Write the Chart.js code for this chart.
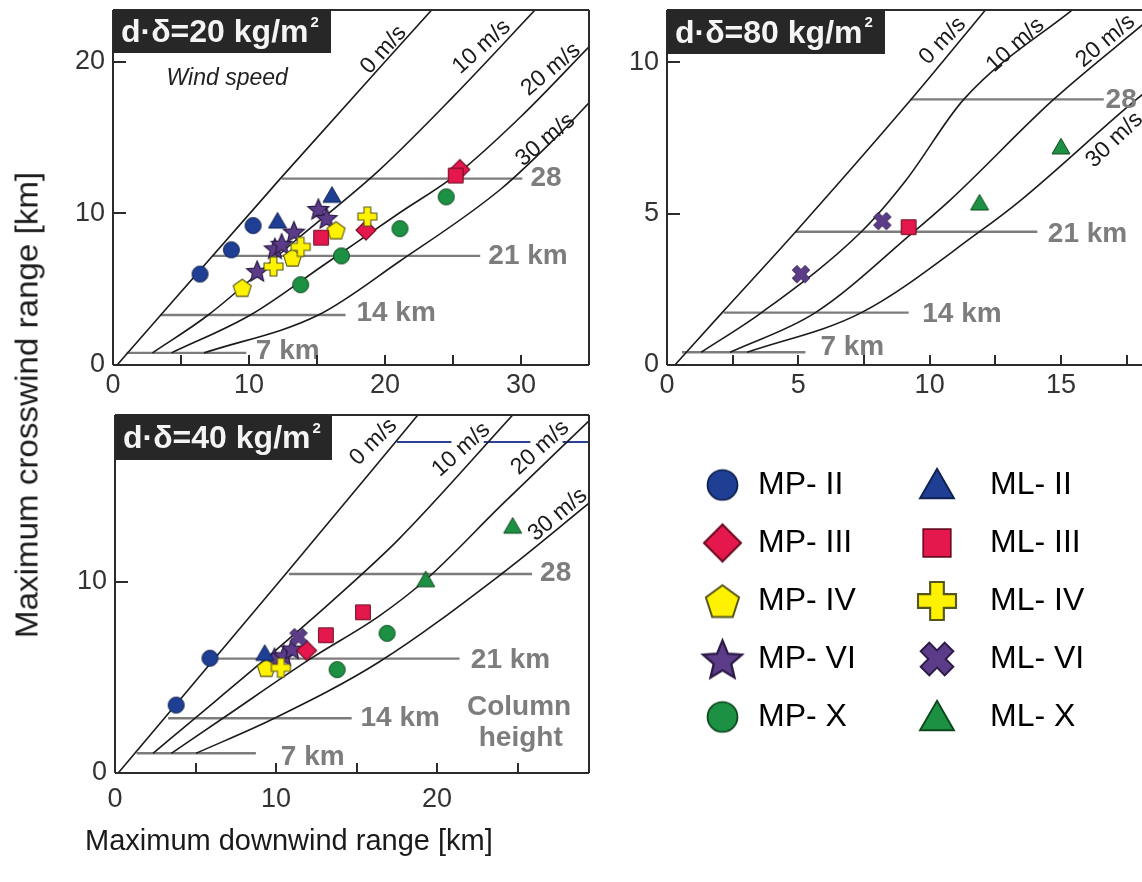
<!DOCTYPE html>
<html>
<head>
<meta charset="utf-8">
<script src="https://cdn.jsdelivr.net/npm/chart.js@4.4.1/dist/chart.umd.min.js"></script>
<style>
html,body{margin:0;padding:0;background:#ffffff;}
body{width:1142px;height:882px;overflow:hidden;position:relative;}
canvas{position:absolute;}
.t{position:absolute;white-space:nowrap;color:#1a1a1a;font-family:"Liberation Sans",Arial,Helvetica,sans-serif;line-height:1;}
</style>
</head>
<body>
<canvas id="p1" width="600" height="412" style="left:0px;top:0px"></canvas>
<canvas id="p2" width="560" height="412" style="left:600px;top:0px"></canvas>
<canvas id="p3" width="600" height="420" style="left:0px;top:410px"></canvas>
<canvas id="lg1" width="500" height="340" style="left:677px;top:443px"></canvas>
<canvas id="lg2" width="500" height="340" style="left:874px;top:443px"></canvas>
<div class="t" style="left:27px;top:405px;font-size:31px;transform:translate(-50%,-50%) rotate(-90deg) scaleX(1.07);">Maximum crosswind range [km]</div>
<div class="t" style="left:85px;top:826px;font-size:29px;">Maximum downwind range [km]</div>
<script>
const FONT = '"Liberation Sans", Arial, Helvetica, sans-serif';

// ---------------- Panel 1 : d·δ = 20 kg/m² ----------------
const p1_wind0  = [[0.3,0],[12.4,12.4],[23.6,23.6]];
const p1_wind10 = [[2.9,0.8],[7.0,3.3],[13.4,8.2],[19.5,12.8],[25.0,17.7],[31.0,23.4]];
const p1_wind20 = [[4.3,0.8],[10.1,3.3],[15.5,6.6],[21.0,10.0],[25.3,12.6],[30.0,16.4],[35.0,21.0]];
const p1_wind30 = [[6.7,0.8],[15.1,3.3],[21.0,6.8],[28.5,11.6],[33.1,15.5],[35.0,17.3]];
const p1_h7  = [[1.0,0.8],[9.8,0.8]];
const p1_h14 = [[3.5,3.3],[17.1,3.3]];
const p1_h21 = [[7.3,7.2],[27.0,7.2]];
const p1_h28 = [[12.4,12.3],[30.1,12.3]];
const p1_MP_II  = [[6.4,6.0],[8.7,7.6],[10.3,9.2]];
const p1_MP_III = [[18.6,8.9],[25.5,12.9]];
const p1_MP_IV  = [[9.5,5.1],[13.2,7.1],[16.4,8.9]];
const p1_MP_VI  = [[10.6,6.2],[11.9,7.7],[12.4,8.0],[13.3,8.8],[15.1,10.3],[15.7,9.7]];
const p1_MP_X   = [[13.8,5.3],[16.8,7.2],[21.1,9.0],[24.5,11.1]];
const p1_ML_II  = [[12.1,9.5],[16.1,11.2]];
const p1_ML_III = [[15.3,8.4],[25.2,12.5]];
const p1_ML_IV  = [[11.8,6.5],[13.8,7.8],[18.7,9.8]];
const p1_ML_VI  = [];
const p1_ML_X   = [];
const p1_xTickMarks = [5,10,15,20,25,30];
const p1_xTickLabels = [0,10,20,30];
const p1_yTickMarks = [10,20];
const p1_yTickLabels = [0,10,20];

// ---------------- Panel 2 : d·δ = 80 kg/m² ----------------
const p2_wind0  = [[0.3,0],[2.1,1.73],[4.9,4.4],[9.3,8.77],[12.2,11.8]];
const p2_wind10 = [[1.3,0.42],[3.6,1.73],[7.4,4.4],[9.1,6.1],[11.3,8.77],[15.4,11.7],[16.0,12.1]];
const p2_wind20 = [[2.4,0.42],[5.65,1.73],[9.4,4.4],[10.8,5.46],[14.7,8.75],[18.2,11.3]];
const p2_wind30 = [[3.05,0.42],[7.4,1.73],[11.9,4.4],[13.5,5.46],[17.4,8.42],[18.2,9.0]];
const p2_h7  = [[0.57,0.42],[5.27,0.42]];
const p2_h14 = [[2.16,1.73],[9.2,1.73]];
const p2_h21 = [[4.89,4.4],[14.1,4.4]];
const p2_h28 = [[9.27,8.77],[16.63,8.77]];
const p2_ML_III = [[9.2,4.55]];
const p2_ML_VI  = [[5.1,3.0],[8.2,4.75]];
const p2_ML_X   = [[11.9,5.35],[15.0,7.2]];
const p2_xTickMarks = [2.5,5,7.5,10,12.5,15,17.5];
const p2_xTickLabels = [0,5,10,15];
const p2_yTickMarks = [5,10];
const p2_yTickLabels = [0,5,10];

// ---------------- Panel 3 : d·δ = 40 kg/m² ----------------
const p3_wind0  = [[0.2,0],[10.6,10.4],[18.9,18.8]];
const p3_wind10 = [[2.36,1.03],[4.96,2.86],[9.4,6.0],[13.5,9.0],[17.6,12.2],[24.8,18.8]];
const p3_wind20 = [[3.5,1.03],[6.7,2.86],[12.2,6.0],[16.4,8.2],[19.3,10.1],[24.0,14.0],[29.44,18.4]];
const p3_wind30 = [[5.04,1.03],[9.9,2.86],[16.4,5.8],[24.0,10.4],[29.44,14.1]];
const p3_h7  = [[1.34,1.03],[8.75,1.03]];
const p3_h14 = [[3.3,2.86],[14.7,2.86]];
const p3_h21 = [[6.4,5.98],[21.4,5.98]];
const p3_h28 = [[10.8,10.4],[25.9,10.4]];
const p3_h35 = [[17.5,17.3],[20.9,17.3],[20.9,null],[22.9,17.3],[25.8,17.3],[25.8,null],[27.8,17.3],[29.44,17.3]];
const p3_MP_II  = [[3.8,3.55],[5.9,6.0]];
const p3_MP_III = [[11.9,6.4]];
const p3_MP_IV  = [[9.4,5.5]];
const p3_MP_VI  = [[9.9,6.0],[10.5,6.15],[11.0,6.5]];
const p3_MP_X   = [[13.8,5.4],[16.9,7.3]];
const p3_ML_II  = [[9.3,6.25]];
const p3_ML_III = [[13.1,7.2],[15.4,8.4]];
const p3_ML_IV  = [[10.3,5.5]];
const p3_ML_VI  = [[11.4,7.1]];
const p3_ML_X   = [[19.3,10.1],[24.7,12.9]];
const p3_xTickMarks = [5,10,15,20,25];
const p3_xTickLabels = [0,10,20];
const p3_yTickMarks = [10];
const p3_yTickLabels = [0,10];

// ---------------- Series / legend ----------------
const legendCol1 = ['MP- II','MP- III','MP- IV','MP- VI','MP- X'];
const legendCol2 = ['ML- II','ML- III','ML- IV','ML- VI','ML- X'];
const windLabels = ['0 m/s','10 m/s','20 m/s','30 m/s'];

// styles
const seriesStyle = {
  'MP- II':  ['circle',  '#1f3f95', '#0f214f'],
  'MP- III': ['diamond', '#e4184c', '#6a0b22'],
  'MP- IV':  ['pentagon','#fff200', '#55551e'],
  'MP- VI':  ['star',    '#5c3c88', '#2a1a45'],
  'MP- X':   ['circle',  '#1d9143', '#0c461d'],
  'ML- II':  ['triangle','#1f3f95', '#0f214f'],
  'ML- III': ['square',  '#e4184c', '#6a0b22'],
  'ML- IV':  ['plus',    '#fff200', '#55551e'],
  'ML- VI':  ['cross',   '#5c3c88', '#2a1a45'],
  'ML- X':   ['triangle','#1d9143', '#0c461d']
};
const plotSize   = {circle:17, diamond:20, pentagon:19, star:22, triangle:18, square:16, plus:19, cross:18};
const legendSize = {circle:31, diamond:37, pentagon:35, star:41, triangle:34, square:30, plus:38, cross:34};

function makeMarker(shape, d, fill, stroke) {
  const pad = 3, S = Math.ceil(d + pad * 2);
  const c = document.createElement('canvas'); c.width = S; c.height = S;
  const g = c.getContext('2d');
  const m = S / 2, r = d / 2;
  g.fillStyle = fill; g.strokeStyle = stroke; g.lineWidth = Math.max(1, d / 18); g.lineJoin = 'miter';
  g.beginPath();
  const poly = pts => { pts.forEach(([a, b], i) => i ? g.lineTo(m + a, m + b) : g.moveTo(m + a, m + b)); g.closePath(); };
  if (shape === 'circle') g.arc(m, m, r - 0.5, 0, 2 * Math.PI);
  else if (shape === 'diamond') poly([[0, -r], [r, 0], [0, r], [-r, 0]]);
  else if (shape === 'pentagon') { const p = []; for (let i = 0; i < 5; i++) { const a = -Math.PI / 2 + i * 2 * Math.PI / 5; p.push([r * Math.cos(a), r * Math.sin(a) + r * 0.1]); } poly(p); }
  else if (shape === 'star') { const p = []; for (let i = 0; i < 10; i++) { const a = -Math.PI / 2 + i * Math.PI / 5; const rr = i % 2 ? r * 0.45 : r; p.push([rr * Math.cos(a), rr * Math.sin(a) + r * 0.1]); } poly(p); }
  else if (shape === 'triangle') { const h = r * 1.73; poly([[0, -h * 0.55], [r, h * 0.45], [-r, h * 0.45]]); }
  else if (shape === 'square') { const s = r * 0.92; poly([[-s, -s], [s, -s], [s, s], [-s, s]]); }
  else if (shape === 'plus' || shape === 'cross') {
    const w = r * 0.36;
    let p = [[-w,-r],[w,-r],[w,-w],[r,-w],[r,w],[w,w],[w,r],[-w,r],[-w,w],[-r,w],[-r,-w],[-w,-w]];
    if (shape === 'cross') { const k = Math.SQRT1_2; p = p.map(([a, b]) => [(a - b) * k, (a + b) * k]); }
    poly(p);
  }
  g.fill(); g.stroke();
  return c;
}

function xy(arr) { return arr.map(([x, y]) => ({x, y})); }
function lineDS(arr, color, width) {
  return {data: xy(arr), borderColor: color, borderWidth: width, pointRadius: 0, pointHoverRadius: 0,
          fill: false, cubicInterpolationMode: 'monotone', spanGaps: false, order: 10};
}
function markerDS(name, arr) {
  const [shape, fill, stroke] = seriesStyle[name];
  const img = makeMarker(shape, plotSize[shape], fill, stroke);
  return {label: name, data: xy(arr), showLine: false, pointStyle: img, pointRadius: plotSize[shape] / 2,
          pointHoverRadius: plotSize[shape] / 2, borderWidth: 0, order: name.startsWith('MP') ? 5 : 3};
}

function annotPlugin(A) {
  return {
    id: 'annot',
    afterDatasetsDraw(chart) {
      const {ctx, scales: {x, y}} = chart;
      A.texts.forEach(t => {
        ctx.save();
        ctx.translate(x.getPixelForValue(t.at[0]), y.getPixelForValue(t.at[1]));
        if (t.rot) ctx.rotate(t.rot * Math.PI / 180);
        ctx.font = t.font; ctx.fillStyle = t.color; ctx.textAlign = t.align || 'center'; ctx.textBaseline = 'middle';
        ctx.fillText(t.text, 0, 0);
        ctx.restore();
      });
    },
    afterDraw(chart) {
      const {ctx, chartArea: ca, scales: {x, y}} = chart;
      ctx.save();
      ctx.strokeStyle = '#2b2b2b'; ctx.lineWidth = 2;
      ctx.beginPath();
      A.xMarks.forEach(v => { const px = Math.round(x.getPixelForValue(v)); ctx.moveTo(px, ca.bottom); ctx.lineTo(px, ca.bottom - 10); });
      A.yMarks.forEach(v => { const py = Math.round(y.getPixelForValue(v)); ctx.moveTo(ca.left, py); ctx.lineTo(ca.left + 13, py); });
      ctx.stroke();
      ctx.beginPath();
      ctx.moveTo(ca.left, ca.top); ctx.lineTo(ca.right, ca.top);
      ctx.moveTo(ca.left, ca.top); ctx.lineTo(ca.left, ca.bottom);
      ctx.moveTo(ca.left, ca.bottom); ctx.lineTo(ca.right, ca.bottom);
      if (A.frameRight) { ctx.moveTo(ca.right, ca.top); ctx.lineTo(ca.right, ca.bottom); }
      ctx.stroke();
      ctx.fillStyle = '#272727';
      ctx.fillRect(ca.left, ca.top, A.box[0], A.box[1]);
      ctx.fillStyle = '#f4f4f4'; ctx.font = 'bold 32px ' + FONT; ctx.textAlign = 'left'; ctx.textBaseline = 'middle';
      const tx = ca.left + 8, ty = ca.top + A.box[1] / 2 + 2;
      ctx.fillText(A.title, tx, ty);
      const w = ctx.measureText(A.title).width;
      ctx.font = 'bold 15px ' + FONT; ctx.fillText('2', tx + w + 2, ty - 11);
      ctx.restore();
    }
  };
}

const WIND_FONT = '23px ' + FONT, KM_FONT = 'bold 28px ' + FONT, GRAY = '#7d7d7d', DARK = '#1a1a1a';
function windTexts(pos, rots) {
  return windLabels.map((t, i) => ({text: t, at: pos[i], rot: rots[i], font: WIND_FONT, color: DARK}));
}
function kmTexts(labels, pos) {
  return labels.map((t, i) => ({text: t, at: pos[i], font: KM_FONT, color: GRAY, align: 'left'}));
}

function panelChart(id, cfg) {
  const datasets = [];
  cfg.windLines.forEach(a => datasets.push(lineDS(a, '#1b1b1b', 1.6)));
  cfg.heightLines.forEach(a => datasets.push(lineDS(a, '#7c7c7c', 2.4)));
  if (cfg.blueLine) datasets.push(lineDS(cfg.blueLine, '#2c4196', 2));
  Object.entries(cfg.markers).forEach(([name, arr]) => { if (arr.length) datasets.push(markerDS(name, arr)); });
  const near = (list, v) => list.some(u => Math.abs(u - v) < 1e-6);
  const cv = document.getElementById(id);
  const chart = new Chart(cv, {
    type: 'line',
    data: {datasets},
    options: {
      responsive: false, maintainAspectRatio: false, animation: false, devicePixelRatio: 1,
      layout: {padding: cfg.padding},
      plugins: {legend: {display: false}, tooltip: {enabled: false}},
      scales: {
        x: {type: 'linear', min: 0, max: cfg.xMax,
            grid: {display: false, drawTicks: false}, border: {display: false},
            ticks: {stepSize: cfg.xStep, includeBounds: false, autoSkip: false, maxRotation: 0, padding: cfg.xPad,
                    color: '#333', font: {family: FONT, size: 27},
                    callback: v => near(cfg.xLabels, v) ? String(v) : ''},
            afterFit: s => { s.height = cfg.xAxisH; s.paddingLeft = 0; s.paddingRight = 0; }},
        y: {type: 'linear', min: 0, max: cfg.yMax,
            grid: {display: false, drawTicks: false}, border: {display: false},
            ticks: {stepSize: cfg.yStep, includeBounds: false, autoSkip: false, padding: 8,
                    color: '#333', font: {family: FONT, size: 27},
                    callback: v => near(cfg.yLabels, v) ? String(v) : ''},
            afterFit: s => { s.width = cfg.yAxisW; s.paddingTop = 0; s.paddingBottom = 0; }}
      }
    },
    plugins: [annotPlugin(cfg.annot)]
  });
  // pin the plot area to the wanted page rows (top / bottom of the frame)
  let ct = parseFloat(cv.style.top);
  for (let i = 0; i < 4; i++) {
    const ca = chart.chartArea;
    const dTop = ct + ca.top - cfg.want[0], dBot = ct + ca.bottom - cfg.want[1];
    if (Math.abs(dTop) < 0.3 && Math.abs(dBot) < 0.3) break;
    ct -= dTop; cv.style.top = ct + 'px';
    cfg.xAxisH += (dBot - dTop);
    chart.update();
  }
  return chart;
}

// Panel 1
panelChart('p1', {
  padding: {top: 10, right: 8, left: 0, bottom: 0}, xAxisH: 47, yAxisW: 113, xPad: 4, want: [10, 365],
  xMax: 35, yMax: 23.43, xStep: 5, yStep: 10, xLabels: p1_xTickLabels, yLabels: p1_yTickLabels,
  windLines: [p1_wind0, p1_wind10, p1_wind20, p1_wind30],
  heightLines: [p1_h7, p1_h14, p1_h21, p1_h28],
  markers: {'MP- II': p1_MP_II, 'MP- III': p1_MP_III, 'MP- IV': p1_MP_IV, 'MP- VI': p1_MP_VI, 'MP- X': p1_MP_X,
            'ML- II': p1_ML_II, 'ML- III': p1_ML_III, 'ML- IV': p1_ML_IV, 'ML- VI': p1_ML_VI, 'ML- X': p1_ML_X},
  annot: {
    title: 'd·δ=20 kg/m', box: [218, 43], frameRight: true, xMarks: p1_xTickMarks, yMarks: p1_yTickMarks,
    texts: [
      {text: 'Wind speed', at: [8.4, 18.9], font: 'italic 23px ' + FONT, color: '#222'},
      ...windTexts([[19.9, 20.8], [27.1, 21.0], [32.2, 19.5], [31.8, 14.85]], [-48, -42, -40, -40]),
      ...kmTexts(['7 km', '14 km', '21 km', '28'], [[10.5, 0.92], [17.9, 3.43], [27.6, 7.2], [30.7, 12.34]])
    ]
  }
});

// Panel 2
panelChart('p2', {
  padding: {top: 10, right: 15, left: 0, bottom: 0}, xAxisH: 47, yAxisW: 67, xPad: 4, want: [10, 365],
  xMax: 18.2, yMax: 11.72, xStep: 2.5, yStep: 5, xLabels: p2_xTickLabels, yLabels: p2_yTickLabels,
  windLines: [p2_wind0, p2_wind10, p2_wind20, p2_wind30],
  heightLines: [p2_h7, p2_h14, p2_h21, p2_h28],
  markers: {'ML- III': p2_ML_III, 'ML- VI': p2_ML_VI, 'ML- X': p2_ML_X},
  annot: {
    title: 'd·δ=80 kg/m', box: [218, 44], frameRight: false, xMarks: p2_xTickMarks, yMarks: p2_yTickMarks,
    texts: [
      ...windTexts([[10.5, 10.7], [13.27, 10.56], [16.7, 10.7], [17.04, 7.43]], [-46, -42, -40, -44]),
      ...kmTexts(['7 km', '14 km', '21 km', '28'], [[5.84, 0.59], [9.72, 1.68], [14.5, 4.32], [16.7, 8.75]])
    ]
  }
});

// Panel 3
panelChart('p3', {
  padding: {top: 5, right: 8, left: 0, bottom: 0}, xAxisH: 55, yAxisW: 115, xPad: 10, want: [415, 773],
  xMax: 29.44, yMax: 18.71, xStep: 5, yStep: 10, xLabels: p3_xTickLabels, yLabels: p3_yTickLabels,
  windLines: [p3_wind0, p3_wind10, p3_wind20, p3_wind30],
  heightLines: [p3_h7, p3_h14, p3_h21, p3_h28],
  blueLine: p3_h35,
  markers: {'MP- II': p3_MP_II, 'MP- III': p3_MP_III, 'MP- IV': p3_MP_IV, 'MP- VI': p3_MP_VI, 'MP- X': p3_MP_X,
            'ML- II': p3_ML_II, 'ML- III': p3_ML_III, 'ML- IV': p3_ML_IV, 'ML- VI': p3_ML_VI, 'ML- X': p3_ML_X},
  annot: {
    title: 'd·δ=40 kg/m', box: [217, 45], frameRight: true, xMarks: p3_xTickMarks, yMarks: p3_yTickMarks,
    texts: [
      ...windTexts([[16.05, 17.3], [21.5, 16.9], [26.4, 17.0], [27.5, 13.5]], [-45, -42, -42, -40]),
      ...kmTexts(['7 km', '14 km', '21 km', '28'], [[10.3, 0.84], [15.25, 2.88], [22.1, 5.9], [26.4, 10.45]]),
      {text: 'Column', at: [25.1, 3.45], font: KM_FONT, color: GRAY},
      {text: 'height', at: [25.2, 1.83], font: KM_FONT, color: GRAY}
    ]
  }
});

// Legend (two columns)
function legendChart(id, names, boxW) {
  return new Chart(document.getElementById(id), {
    type: 'line',
    data: {datasets: names.map(n => {
      const [shape, fill, stroke] = seriesStyle[n];
      return {label: n, data: [], pointStyle: makeMarker(shape, legendSize[shape], fill, stroke)};
    })},
    options: {
      responsive: false, animation: false, devicePixelRatio: 1,
      layout: {padding: 0},
      scales: {x: {display: false}, y: {display: false}},
      plugins: {
        tooltip: {enabled: false},
        legend: {position: 'left', align: 'start',
          labels: {usePointStyle: true, pointStyleWidth: boxW, boxHeight: 32, padding: 26,
                   color: '#1a1a1a', font: {family: FONT, size: 32},
                   generateLabels: chart => chart.data.datasets.map((d, i) => ({
                     text: d.label, pointStyle: d.pointStyle, fillStyle: '#000', strokeStyle: '#000',
                     lineWidth: 0, hidden: false, datasetIndex: i}))}}
      }
    }
  });
}
legendChart('lg1', legendCol1, 39);
legendChart('lg2', legendCol2, 74);
</script>
</body>
</html>
